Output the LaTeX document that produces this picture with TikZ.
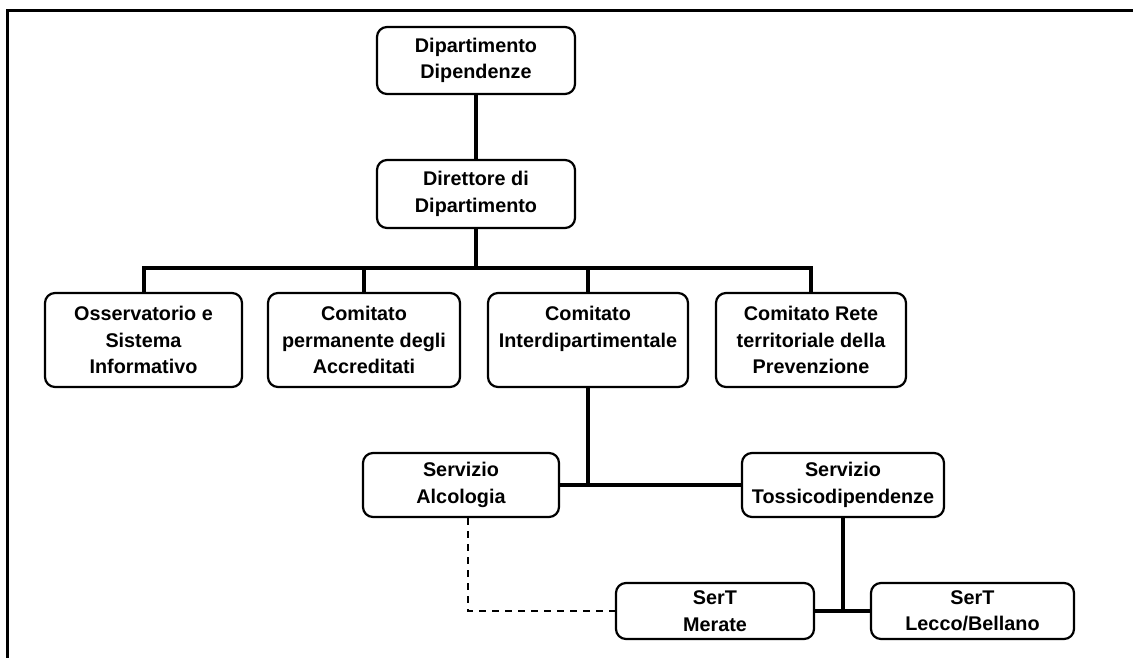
\documentclass[tikz,border=0pt]{standalone}
\usepackage{fontspec}
\setmainfont{Liberation Sans}
\begin{document}
\begin{tikzpicture}[x=1pt,y=-1pt,
  box/.style={draw, line width=2.2pt, rounded corners=10pt, align=center,
    font=\bfseries\fontsize{19.8}{26.5}\selectfont, inner sep=0pt},
  conn/.style={line width=4pt},
  dashconn/.style={line width=1.4pt, dash pattern=on 7pt off 6pt}]
\useasboundingbox (0,0) rectangle (1133,658);
\draw[line width=3pt] (7,658) -- (7,11) -- (1133,11);

\node[box, minimum width=198pt, minimum height=67pt] (dd) at (476,60.5) {Dipartimento\\Dipendenze};
\node[box, minimum width=198pt, minimum height=68pt] (dir) at (476,194) {Direttore di\\Dipartimento};
\node[box, minimum width=197pt, minimum height=94pt] (oss) at (143.5,340) {Osservatorio e\\Sistema\\Informativo};
\node[box, minimum width=192pt, minimum height=94pt] (perm) at (364,340) {Comitato\\permanente degli\\Accreditati};
\node[box, minimum width=200pt, minimum height=94pt] (inter) at (588,340) {Comitato\\Interdipartimentale\\\mbox{}};
\node[box, minimum width=190pt, minimum height=94pt] (rete) at (811,340) {Comitato Rete\\territoriale della\\Prevenzione};
\node[box, minimum width=196pt, minimum height=64pt] (alc) at (461,485) {Servizio\\Alcologia};
\node[box, minimum width=202pt, minimum height=64pt] (tox) at (843,485) {Servizio\\Tossicodipendenze};
\node[box, minimum width=198pt, minimum height=56pt] (mer) at (715,611) {SerT\\Merate};
\node[box, minimum width=203pt, minimum height=56pt] (lec) at (972.5,611) {SerT\\Lecco/Bellano};

\draw[conn] (dd) -- (dir);
\draw[conn] (dir.south) -- ++(0,39) coordinate (b1);
\draw[conn] (oss.north) -- (oss.north |- b1) -- (rete.north |- b1) -- (rete.north);
\draw[conn] (perm.north) -- (perm.north |- b1);
\draw[conn] (inter.north) -- (inter.north |- b1);

\draw[conn] (inter.south) -- (inter.south |- alc.east);
\draw[conn] (alc.east) -- (tox.west);
\draw[conn] (tox.south) -- (tox.south |- mer.east);
\draw[conn] (mer.east) -- (lec.west);
\draw[dashconn] ([xshift=7pt]alc.south) |- (mer.west);
\end{tikzpicture}
\end{document}
